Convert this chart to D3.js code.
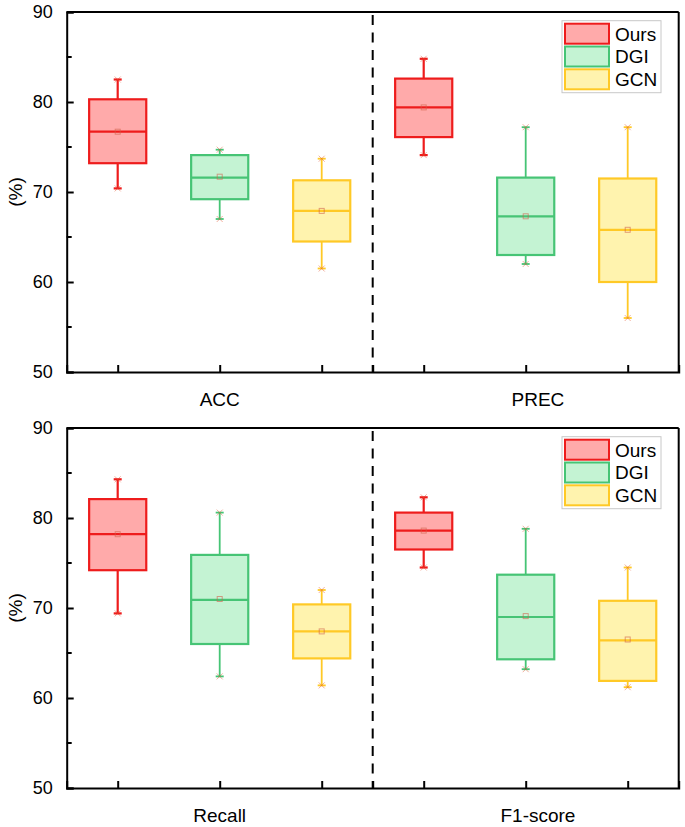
<!DOCTYPE html>
<html><head><meta charset="utf-8">
<script src="https://cdn.jsdelivr.net/npm/d3@7"></script>
<style>
body{margin:0;background:#fff;}
text{font-family:Arial,"Liberation Sans",sans-serif;}
</style></head>
<body>
<svg id="chart" width="685" height="827"></svg>
<script>
// ---------- data ----------
const metrics = ["ACC", "PREC", "Recall", "F1-score"];
const methods = ["Ours", "DGI", "GCN"];
// indexed [metric][method]
const whiskerMin = [[70.4, 67.0, 61.5], [74.1, 62.0, 56.0], [69.4, 62.4, 61.4], [74.5, 63.2, 61.2]];
const q1         = [[73.2, 69.2, 64.5], [76.1, 63.0, 60.0], [74.2, 66.0, 64.4], [76.5, 64.3, 61.9]];
const medians    = [[76.7, 71.6, 67.9], [79.4, 67.3, 65.8], [78.2, 70.9, 67.4], [78.6, 69.0, 66.4]];
const q3         = [[80.3, 74.1, 71.3], [82.6, 71.6, 71.5], [82.1, 75.9, 70.4], [80.6, 73.7, 70.8]];
const whiskerMax = [[82.5, 74.7, 73.7], [84.8, 77.2, 77.2], [84.3, 80.6, 72.0], [82.3, 78.8, 74.5]];
const means      = [[76.7, 71.7, 67.9], [79.4, 67.3, 65.8], [78.2, 71.0, 67.4], [78.6, 69.1, 66.5]];
const yTicksMajor = [50, 60, 70, 80, 90];
const yTicksMinor = [55, 65, 75, 85];
const panels = [[0, 1], [2, 3]];

// ---------- styles ----------
const fills   = ["#ffaaaa", "#c4f3d3", "#fff3ae"];
const strokes = ["#ee1c1c", "#46c475", "#ffc926"];

const svg = d3.select("#chart");
const left = 66.7, right = 678.7, panelH = 360;
const panelTops = [12, 428];

const x = d3.scaleLinear().domain([0, 6]).range([left, right]);
const boxW = x(0.56) - x(0);
const capW = 8;

panels.forEach((pm, p) => {
  const top = panelTops[p];
  const y = d3.scaleLinear().domain([50, 90]).range([top + panelH, top]);
  const g = svg.append("g");

  // frame top/right
  g.append("line").attr("x1", left).attr("x2", right).attr("y1", top).attr("y2", top)
    .attr("stroke", "#000").attr("stroke-width", 2);
  g.append("line").attr("x1", right).attr("x2", right).attr("y1", top).attr("y2", top + panelH)
    .attr("stroke", "#000").attr("stroke-width", 2);

  // y axis
  const yAxis = d3.axisLeft(y).tickValues(yTicksMajor).tickSize(-7).tickPadding(14).tickFormat(d3.format("d"));
  const ya = g.append("g").attr("transform", `translate(${left},0)`).call(yAxis);
  ya.select(".domain").attr("stroke-width", 2);
  ya.selectAll(".tick line").attr("stroke-width", 2);
  ya.selectAll("text").attr("font-size", 18).attr("fill", "#000");
  yTicksMinor.forEach(v => {
    g.append("line").attr("x1", left).attr("x2", left + 5).attr("y1", y(v)).attr("y2", y(v))
      .attr("stroke", "#000").attr("stroke-width", 2);
  });

  // x axis
  const xTicks = [0.5, 1.5, 2.5, 3, 3.5, 4.5, 5.5];
  const xAxis = d3.axisBottom(x).tickValues(xTicks).tickSize(-7).tickFormat("");
  const xa = g.append("g").attr("transform", `translate(0,${top + panelH})`).call(xAxis);
  xa.select(".domain").attr("stroke-width", 2);
  xa.selectAll(".tick line").attr("stroke-width", 2);

  // category labels
  const labelPos = [1.5, 4.62];
  pm.forEach((m, j) => {
    g.append("text").attr("x", x(labelPos[j])).attr("y", top + panelH + 34)
      .attr("text-anchor", "middle").attr("font-size", 19).text(metrics[m]);
  });

  // y label
  g.append("text").attr("transform", `translate(22,${top + panelH / 2}) rotate(-90)`)
    .attr("text-anchor", "middle").attr("font-size", 19).text("(%)");

  // divider
  g.append("line").attr("x1", x(3)).attr("x2", x(3)).attr("y1", top).attr("y2", top + panelH)
    .attr("stroke", "#000").attr("stroke-width", 2)
    .attr("stroke-dasharray", "10,7.5").attr("stroke-dashoffset", 14.5);

  // boxes
  pm.forEach((m, j) => {
    methods.forEach((name, i) => {
      const cx = x(j * 3 + i + 0.5);
      const s = strokes[i];
      const sw = i === 0 ? 2.2 : 1.8;
      const bg = g.append("g");
      // whiskers
      bg.append("line").attr("x1", cx).attr("x2", cx).attr("y1", y(q3[m][i])).attr("y2", y(whiskerMax[m][i]))
        .attr("stroke", s).attr("stroke-width", sw);
      bg.append("line").attr("x1", cx).attr("x2", cx).attr("y1", y(q1[m][i])).attr("y2", y(whiskerMin[m][i]))
        .attr("stroke", s).attr("stroke-width", sw);
      [whiskerMax[m][i], whiskerMin[m][i]].forEach(v => {
        bg.append("line").attr("x1", cx - capW / 2).attr("x2", cx + capW / 2).attr("y1", y(v)).attr("y2", y(v))
          .attr("stroke", s).attr("stroke-width", sw);
        // small x marker
        bg.append("path").attr("d", `M${cx - 3},${y(v) - 3}L${cx + 3},${y(v) + 3}M${cx - 3},${y(v) + 3}L${cx + 3},${y(v) - 3}`)
          .attr("stroke", "#e0502a").attr("stroke-opacity", 0.45).attr("stroke-width", 1);
      });
      // box
      bg.append("rect").attr("x", cx - boxW / 2).attr("y", y(q3[m][i]))
        .attr("width", boxW).attr("height", y(q1[m][i]) - y(q3[m][i]))
        .attr("fill", fills[i]).attr("stroke", s).attr("stroke-width", 2.2);
      // median
      bg.append("line").attr("x1", cx - boxW / 2).attr("x2", cx + boxW / 2)
        .attr("y1", y(medians[m][i])).attr("y2", y(medians[m][i]))
        .attr("stroke", s).attr("stroke-width", 2.2);
      // mean marker
      bg.append("rect").attr("x", cx - 2.5).attr("y", y(means[m][i]) - 2.5).attr("width", 5).attr("height", 5)
        .attr("fill", "none").attr("stroke", "#d0604a").attr("stroke-opacity", 0.6).attr("stroke-width", 1);
    });
  });

  // legend
  const lg = g.append("g").attr("transform", `translate(562,${top + 8.7})`);
  lg.append("rect").attr("width", 99).attr("height", 72).attr("fill", "#fff")
    .attr("stroke", "#c8c8c8").attr("stroke-width", 1);
  methods.forEach((name, i) => {
    lg.append("rect").attr("x", 3).attr("y", 3 + i * 22.8).attr("width", 44).attr("height", 20)
      .attr("fill", fills[i]).attr("stroke", strokes[i]).attr("stroke-width", 2);
    lg.append("text").attr("x", 53).attr("y", 13 + i * 22.8).attr("dy", "0.36em")
      .attr("font-size", 19).text(name);
  });
});
</script>
</body></html>
